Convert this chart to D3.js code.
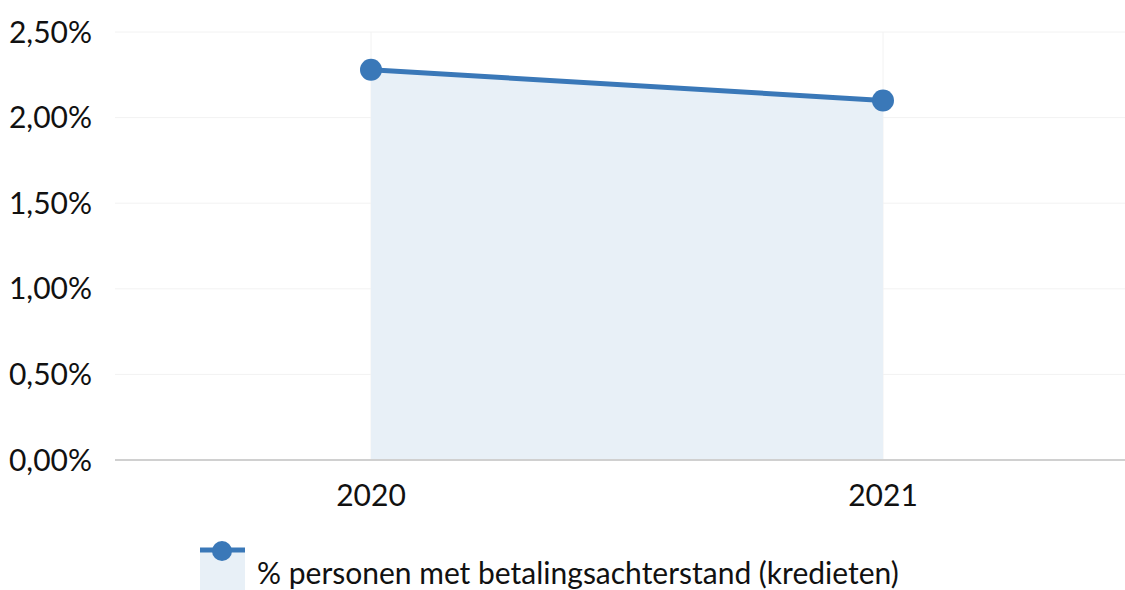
<!DOCTYPE html>
<html>
<head>
<meta charset="utf-8">
<script src="https://cdn.jsdelivr.net/npm/d3@7"></script>
<style>
  body { margin: 0; background: #fff; }
  svg { display: block; font-family: Lato, "Noto Sans", sans-serif; }
</style>
</head>
<body>
<svg id="chart" width="1125" height="590"></svg>
<script>
// data
const years = ["2020", "2021"];
const values = [2.28, 2.10];
const yTicks = [0, 0.5, 1, 1.5, 2, 2.5];
const seriesName = "% personen met betalingsachterstand (kredieten)";

const width = 1125, height = 590;
const plotLeft = 115, plotTop = 32, plotBottom = 460;
const blue = "#3a78b8";
const fontSize = 30;

const svg = d3.select("#chart");

const x = d3.scalePoint().domain(years).range([plotLeft, 1139]).padding(0.5);
const y = d3.scaleLinear().domain([0, 2.5]).range([plotBottom, plotTop]);

const fmt = v => d3.format(".2f")(v).replace(".", ",") + "%";

// horizontale rasterlijnen
svg.append("g")
  .selectAll("line")
  .data(yTicks.filter(d => d > 0))
  .join("line")
  .attr("x1", plotLeft).attr("x2", width)
  .attr("y1", d => y(d)).attr("y2", d => y(d))
  .attr("stroke", "#f2f2f2").attr("stroke-width", 1);

// verticale rasterlijnen
svg.append("g")
  .selectAll("line")
  .data(years)
  .join("line")
  .attr("x1", d => x(d)).attr("x2", d => x(d))
  .attr("y1", plotTop).attr("y2", plotBottom)
  .attr("stroke", "#f2f2f2").attr("stroke-width", 1);

const pts = years.map((d, i) => ({ year: d, value: values[i] }));

// vlak
svg.append("path")
  .datum(pts)
  .attr("d", d3.area().x(d => x(d.year)).y0(y(0)).y1(d => y(d.value)))
  .attr("fill", "#e8f0f7");

// basislijn
svg.append("line")
  .attr("x1", plotLeft).attr("x2", width)
  .attr("y1", y(0)).attr("y2", y(0))
  .attr("stroke", "#d0d0d0").attr("stroke-width", 2);

// lijn + punten
svg.append("path")
  .datum(pts)
  .attr("d", d3.line().x(d => x(d.year)).y(d => y(d.value)))
  .attr("fill", "none")
  .attr("stroke", blue)
  .attr("stroke-width", 5);

svg.append("g")
  .selectAll("circle")
  .data(pts)
  .join("circle")
  .attr("cx", d => x(d.year))
  .attr("cy", d => y(d.value))
  .attr("r", 11)
  .attr("fill", blue);

// y labels
svg.append("g")
  .selectAll("text")
  .data(yTicks)
  .join("text")
  .attr("x", 92)
  .attr("y", d => y(d))
  .attr("dy", "0.35em")
  .attr("text-anchor", "end")
  .attr("font-size", fontSize)
  .attr("fill", "#111")
  .text(fmt);

// x labels
svg.append("g")
  .selectAll("text")
  .data(years)
  .join("text")
  .attr("x", d => x(d))
  .attr("y", 506)
  .attr("text-anchor", "middle")
  .attr("font-size", fontSize)
  .attr("fill", "#111")
  .text(d => d);

// legenda
const lg = svg.append("g");
lg.append("rect")
  .attr("x", 200).attr("y", 551).attr("width", 45).attr("height", 39)
  .attr("fill", "#e8f0f7");
lg.append("line")
  .attr("x1", 200).attr("x2", 245).attr("y1", 550).attr("y2", 550)
  .attr("stroke", blue).attr("stroke-width", 5);
lg.append("circle")
  .attr("cx", 222).attr("cy", 551).attr("r", 10)
  .attr("fill", blue);
lg.append("text")
  .attr("x", 257).attr("y", 584)
  .attr("font-size", fontSize)
  .attr("fill", "#111")
  .text(seriesName);
</script>
</body>
</html>
